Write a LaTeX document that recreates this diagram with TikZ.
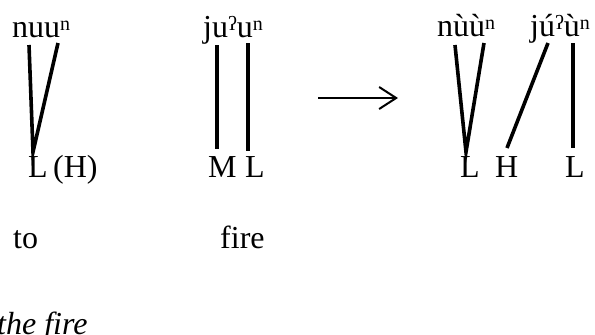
\documentclass[tikz,border=0pt]{standalone}
\usepackage{fontspec}
\setmainfont{Liberation Serif}
\usetikzlibrary{arrows.meta}
\newcommand\tsup[1]{\raisebox{6.5pt}{\fontsize{20}{21}\selectfont #1}}
\tikzset{
  txt/.style={inner sep=0pt, anchor=base west, font=\fontsize{32}{38}\selectfont},
  assoc/.style={line width=3.6pt, line cap=butt},
  mainarrow/.style={line width=2pt, -{Straight Barb[length=17pt,width=22pt,line width=2pt]}}
}
\begin{document}
\begin{tikzpicture}[x=1pt,y=-1pt]
\useasboundingbox (0,0) rectangle (595,335);
\clip (0,0) rectangle (595,335);
% words
\node[txt] (w1) at (12,37) {nuu\tsup{n}};
\node[txt] (w2) at (203,37) {ju\tsup{ʔ}u\tsup{n}};
\node[txt] (w3) at (437,36) {nùù\tsup{n}};
\node[txt] (w4) at (530,36) {jú\tsup{ʔ}ù\tsup{n}};
% tones
\node[txt] (t1) at (28,177) {L};
\node[txt] (t1h) at (53,177) {(H)};
\node[txt] (tM) at (208,177) {M};
\node[txt] (tL) at (245,177) {L};
\node[txt] (r1) at (460,177) {L};
\node[txt] (r2) at (495,177) {H};
\node[txt] (r3) at (565,177) {L};
% glosses
\node[txt] (g1) at (13,248) {to};
\node[txt] (g2) at (220,248) {fire};
\node[txt] (tr) at (-3,334) {\itshape the fire};
% association line end points
\coordinate (a1) at (29,45);
\coordinate (a2) at (58,43);
\coordinate (av) at (33,152);
\coordinate (b1t) at (217,45);
\coordinate (b1b) at (217,149);
\coordinate (b2t) at (248,43);
\coordinate (b2b) at (248,151);
\coordinate (c1) at (455,45);
\coordinate (c2) at (484,43);
\coordinate (cv) at (466,152);
\coordinate (d1t) at (548,43);
\coordinate (d1b) at (507,148);
\coordinate (d2t) at (573,43);
\coordinate (d2b) at (573,148);
\coordinate (arS) at (318,98);
\coordinate (arE) at (398,98);
% lines
\draw[assoc, line join=miter] (a1) -- (av) -- (a2);
\draw[assoc] (b1t) -- (b1b);
\draw[assoc] (b2t) -- (b2b);
\draw[assoc, line join=miter] (c1) -- (cv) -- (c2);
\draw[assoc] (d1t) -- (d1b);
\draw[assoc] (d2t) -- (d2b);
\draw[mainarrow] (arS) -- (arE);
\end{tikzpicture}
\end{document}
